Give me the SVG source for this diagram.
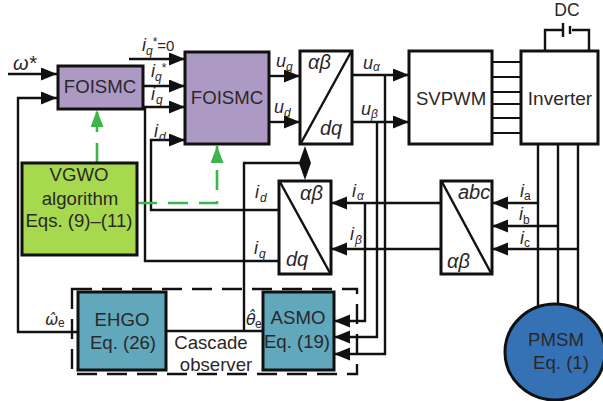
<svg xmlns="http://www.w3.org/2000/svg" width="603" height="401" viewBox="0 0 603 401">
<style>
text{font-family:"Liberation Sans",Arial,sans-serif;font-size:18.6px;fill:#2b2728}
.c{text-anchor:middle}
.i{font-style:italic;font-size:18px}
.m{font-style:italic;font-size:20px}
.s{font-size:12px}
.si{font-size:12px;font-style:italic}
.b{stroke:#111;stroke-width:3;fill:#fff}
.l{stroke:#111;stroke-width:2.4;fill:none}
.t{stroke:#111;stroke-width:1.8;fill:none}
.g{stroke:#3cb54a;stroke-width:2.6;fill:none;stroke-dasharray:20 11}
</style>
<defs>
<marker id="a" markerUnits="userSpaceOnUse" markerWidth="17" markerHeight="14" refX="16" refY="6.5" orient="auto"><path d="M0 0L16 6.5L0 13Z" fill="#111"/></marker>
<marker id="ga" markerUnits="userSpaceOnUse" markerWidth="18" markerHeight="14" refX="17" refY="6.5" orient="auto"><path d="M0 0L17 6.5L0 13Z" fill="#3cb54a"/></marker>
</defs>
<g id="connectors">
<path class="l" marker-end="url(#a)" d="M8 74H57"/>
<path class="l" marker-end="url(#a)" d="M78 332H18V98H57"/>
<path class="l" marker-end="url(#a)" d="M129 59H185"/>
<path class="l" marker-end="url(#a)" d="M143 86H185"/>
<path class="l" marker-end="url(#a)" d="M143 107H185"/>
<path class="l" d="M145 108V261H279"/>
<path class="l" marker-end="url(#a)" d="M279 210H151V140H185"/>
<path class="l" marker-end="url(#a)" d="M269 76H300"/>
<path class="l" marker-end="url(#a)" d="M269 122H300"/>
<path class="l" marker-end="url(#a)" d="M352 75H409"/>
<path class="l" marker-end="url(#a)" d="M352 122H409"/>
<path class="l" marker-end="url(#a)" d="M385 75V354H334"/>
<path class="l" marker-end="url(#a)" d="M377 122V337H334"/>
<path class="l" marker-end="url(#a)" d="M365 203V321H334"/>
<path class="l" marker-end="url(#a)" d="M441 203H331"/>
<path class="l" marker-end="url(#a)" d="M441 249H331"/>
<path class="l" d="M166 331H263"/>
<path class="l" d="M244 331V163H305"/>
<path d="M305 146L311 163L305 180L299 163Z" fill="#111"/>
<path class="l" d="M538 144V310M558 144V310M578 144V310"/>
<path class="l" marker-end="url(#a)" d="M538 203H492"/>
<path class="l" marker-end="url(#a)" d="M558 226H492"/>
<path class="l" marker-end="url(#a)" d="M578 249H492"/>
<path class="t" d="M492 62H521M492 77H521M492 92H521M492 104H521M492 118H521M492 133H521"/>
<path class="l" d="M545 51V30H562M572 30H589V51"/>
<path class="l" d="M563 23V37M570 26V34"/>
<path class="g" marker-end="url(#ga)" d="M97 163V110"/>
<path class="g" marker-end="url(#ga)" d="M137 203H217V146"/>
</g>
<g id="cascade"><rect x="72" y="289" width="285" height="85" fill="none" stroke="#111" stroke-width="2.4" stroke-dasharray="20 10"/><text class="c" x="211" y="349">Cascade</text><text class="c" x="216" y="371">observer</text></g>
<g id="foismc1"><rect x="58" y="66" width="85" height="43" fill="#ad9ac4" stroke="#111" stroke-width="3"/><text class="c" x="100" y="93">FOISMC</text></g>
<g id="foismc2"><rect x="185" y="52" width="84" height="92" fill="#ad9ac4" stroke="#111" stroke-width="3"/><text class="c" x="227" y="104">FOISMC</text></g>
<g id="vgwo"><rect x="22" y="163" width="115" height="92" fill="#a6d94e" stroke="#111" stroke-width="3"/><text class="c" x="79" y="181">VGWO</text><text class="c" x="80" y="205">algorithm</text><text class="c" x="79" y="227">Eqs. (9)–(11)</text></g>
<g id="abdq1"><rect class="b" x="300" y="51" width="52" height="93"/><path class="l" stroke-width="3" d="M301 143L351 52"/><text class="m" x="308" y="69">αβ</text><text class="m" x="320" y="135">dq</text></g>
<g id="svpwm"><rect class="b" x="409" y="51" width="83" height="93"/><text class="c" x="451" y="105">SVPWM</text></g>
<g id="inverter"><rect class="b" x="521" y="51" width="77" height="93"/><text class="c" x="560" y="105" style="font-size:19px">Inverter</text></g>
<g id="abdq2"><rect class="b" x="279" y="181" width="52" height="93"/><path class="l" d="M280 182L330 273"/><text class="m" x="300" y="200">αβ</text><text class="m" x="286" y="266">dq</text></g>
<g id="abc"><rect class="b" x="441" y="181" width="51" height="93"/><path class="l" d="M442 182L491 273"/><text class="m" x="458" y="199">abc</text><text class="m" x="447" y="268">αβ</text></g>
<g id="ehgo"><rect x="78" y="292" width="88" height="78" fill="#62a8bd" stroke="#111" stroke-width="3"/><text class="c" x="122" y="326">EHGO</text><text class="c" x="123" y="349">Eq. (26)</text></g>
<g id="asmo"><rect x="263" y="292" width="71" height="78" fill="#62a8bd" stroke="#111" stroke-width="3"/><text class="c" x="298" y="324">ASMO</text><text class="c" x="297" y="348">Eq. (19)</text></g>
<g id="pmsm"><ellipse cx="555" cy="352" rx="50" ry="48" fill="#3572b5" stroke="#111" stroke-width="3"/><text class="c" x="556" y="346">PMSM</text><text class="c" x="561" y="369">Eq. (1)</text></g>
<g id="labels">
<text class="i" x="13" y="70" style="font-size:20px">ω*</text>
<text class="i" x="142" y="51">i<tspan class="si" dy="4">q</tspan><tspan class="s" dy="-9" font-style="normal">*</tspan><tspan dy="5" font-style="normal" style="font-size:15px">=0</tspan></text>
<text class="i" x="151" y="77">i<tspan class="si" dy="4">q</tspan><tspan class="s" dy="-9" font-style="normal">*</tspan></text>
<text class="i" x="151" y="100">i</text><text class="si" x="156" y="104">q</text>
<text class="i" x="154" y="137">i</text><text class="si" x="159" y="141">d</text>
<text class="i" x="276" y="67">u</text><text class="si" x="286" y="71">q</text>
<text class="i" x="274" y="113">u</text><text class="si" x="284" y="117">d</text>
<text class="i" x="363" y="69">u</text><text class="si" x="373" y="71">α</text>
<text class="i" x="361" y="115">u</text><text class="si" x="371" y="118">β</text>
<text x="567" y="16" class="c" style="font-size:17.5px">DC</text>
<text class="i" x="255" y="198">i</text><text class="si" x="260" y="202">d</text>
<text class="i" x="254" y="254">i</text><text class="si" x="259" y="258">q</text>
<text class="i" x="352" y="197">i</text><text class="si" x="357" y="200">α</text>
<text class="i" x="350" y="240">i</text><text class="si" x="355" y="244">β</text>
<text class="i" x="520" y="197">i</text><text class="s" x="524" y="200">a</text>
<text class="i" x="519" y="220">i</text><text class="s" x="523" y="224">b</text>
<text class="i" x="520" y="244">i</text><text class="s" x="524" y="247">c</text>
<text x="45" y="325" style="font-family:'DejaVu Sans',sans-serif;font-size:16px;font-style:italic">ω̂</text><text class="s" x="58" y="327">e</text>
<text x="246" y="325" style="font-family:'DejaVu Sans',sans-serif;font-size:16px;font-style:italic">θ̂</text><text class="s" x="255" y="328">e</text>
</g>
</svg>
